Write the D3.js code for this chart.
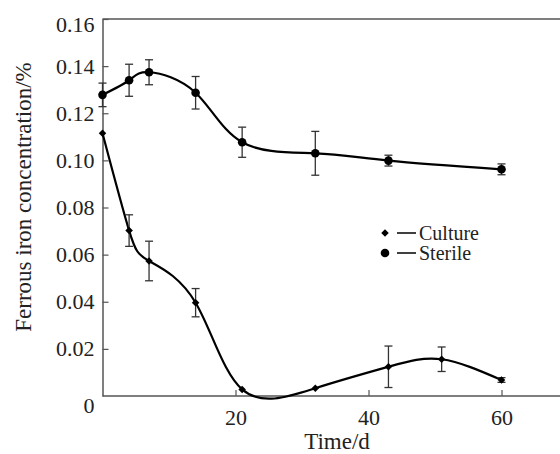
<!DOCTYPE html>
<html><head><meta charset="utf-8">
<script src="https://cdn.jsdelivr.net/npm/d3@7"></script>
<style>html,body{margin:0;padding:0;background:#fff;}svg{display:block;}</style>
</head><body>
<svg id="c" width="560" height="454"></svg>
<script>
const cultureDays = [0, 4, 7, 14, 21, 32, 43, 51, 60];
const cultureValues = [0.1115, 0.0702, 0.0573, 0.0396, 0.0028, 0.0033, 0.0124, 0.0156, 0.0068];
const cultureErrors = [0, 0.0067, 0.0084, 0.0060, 0.0008, 0.0005, 0.0088, 0.0052, 0.0010];
const sterileDays = [0, 4, 7, 14, 21, 32, 43, 60];
const sterileValues = [0.1278, 0.1340, 0.1374, 0.1287, 0.1077, 0.1030, 0.0999, 0.0962];
const sterileErrors = [0.0050, 0.0068, 0.0053, 0.0069, 0.0064, 0.0093, 0.0023, 0.0023];
const xTicks = [20, 40, 60];
const yTicks = [0, 0.02, 0.04, 0.06, 0.08, 0.10, 0.12, 0.14, 0.16];
const yTickLabels = ["0", "0.02", "0.04", "0.06", "0.08", "0.10", "0.12", "0.14", "0.16"];
const legendLabels = ["Culture", "Sterile"];

const svg = d3.select("#c");
const font = '"Liberation Serif", "Times New Roman", Times, Tinos, "Noto Serif", "DejaVu Serif", serif';
const x = d3.scaleLinear().domain([0, 70]).range([102.5, 568]);
const y = d3.scaleLinear().domain([0, 0.16]).range([396, 19]);
const axisColor = "#555";
const fs = 22;

svg.append("line").attr("x1", x(0)).attr("x2", 560).attr("y1", y(0.16)).attr("y2", y(0.16))
  .attr("stroke", axisColor).attr("stroke-width", 1.5);

const xa = svg.append("g").attr("transform", `translate(0,${y(0)})`)
  .call(d3.axisBottom(x).tickValues(xTicks).tickSizeInner(-6).tickSizeOuter(0).tickPadding(13));
xa.attr("font-family", font).attr("font-size", fs);
xa.select(".domain").attr("stroke", axisColor).attr("stroke-width", 1.5).attr("d", `M${x(0)},0H560`);
xa.selectAll(".tick line").attr("stroke", axisColor).attr("stroke-width", 1.2);
xa.selectAll(".tick text").attr("fill", "#222");

const ya = svg.append("g").attr("transform", `translate(${x(0)},0)`)
  .call(d3.axisLeft(y).tickValues(yTicks).tickFormat((d, i) => yTickLabels[i]).tickSizeInner(-6).tickSizeOuter(0).tickPadding(8));
ya.attr("font-family", font).attr("font-size", fs);
ya.select(".domain").attr("stroke", axisColor).attr("stroke-width", 1.5);
ya.selectAll(".tick line").attr("stroke", axisColor).attr("stroke-width", 1.2)
  .attr("display", (d) => (d === 0 ? "none" : null));
ya.selectAll(".tick text").attr("fill", "#222")
  .attr("dy", (d) => (d === 0.16 ? "0.55em" : d === 0 ? "0.75em" : "0.32em"));

svg.append("text").attr("x", 337).attr("y", 449).attr("text-anchor", "middle")
  .attr("font-family", font).attr("font-size", 23).attr("fill", "#222").text("Time/d");
svg.append("text").attr("transform", `translate(31,${(57 + 337) / 2}) rotate(-90)`).attr("text-anchor", "middle")
  .attr("font-family", font).attr("font-size", 23).attr("fill", "#222").text("Ferrous iron concentration/%");

const line = d3.line().x((d) => x(d[0])).y((d) => y(d[1])).curve(d3.curveNatural);

function drawSeries(ds, vs, es, marker) {
  const pts = ds.map((d, i) => [d, vs[i]]);
  svg.append("path").datum(pts).attr("d", line).attr("fill", "none").attr("stroke", "#000").attr("stroke-width", 2.2);
  const g = svg.append("g");
  ds.forEach((d, i) => {
    if (es[i] > 0.0009) {
      const cx = x(d), y1 = y(vs[i] + es[i]), y2 = y(vs[i] - es[i]);
      g.append("line").attr("x1", cx).attr("x2", cx).attr("y1", y1).attr("y2", y2).attr("stroke", "#333").attr("stroke-width", 1.3);
      g.append("line").attr("x1", cx - 4).attr("x2", cx + 4).attr("y1", y1).attr("y2", y1).attr("stroke", "#333").attr("stroke-width", 1.3);
      g.append("line").attr("x1", cx - 4).attr("x2", cx + 4).attr("y1", y2).attr("y2", y2).attr("stroke", "#333").attr("stroke-width", 1.3);
    }
    marker(g, x(d), y(vs[i]));
  });
}
const diamond = (g, cx, cy) => g.append("path").attr("d", d3.symbol(d3.symbolDiamond2, 36)()).attr("transform", `translate(${cx},${cy})`).attr("fill", "#000");
const circle = (g, cx, cy) => g.append("circle").attr("cx", cx).attr("cy", cy).attr("r", 4.3).attr("fill", "#000");

drawSeries(sterileDays, sterileValues, sterileErrors, circle);
drawSeries(cultureDays, cultureValues, cultureErrors, diamond);

const lg = svg.append("g").attr("font-family", font).attr("font-size", 20);
[[diamond, 233], [circle, 253]].forEach(([m, ly], i) => {
  m(lg, 385, ly);
  lg.append("line").attr("x1", 397).attr("x2", 416).attr("y1", ly).attr("y2", ly).attr("stroke", "#111").attr("stroke-width", 1.6);
  lg.append("text").attr("x", 419).attr("y", ly + 6.5).attr("fill", "#222").text(legendLabels[i]);
});
</script>
</body></html>
